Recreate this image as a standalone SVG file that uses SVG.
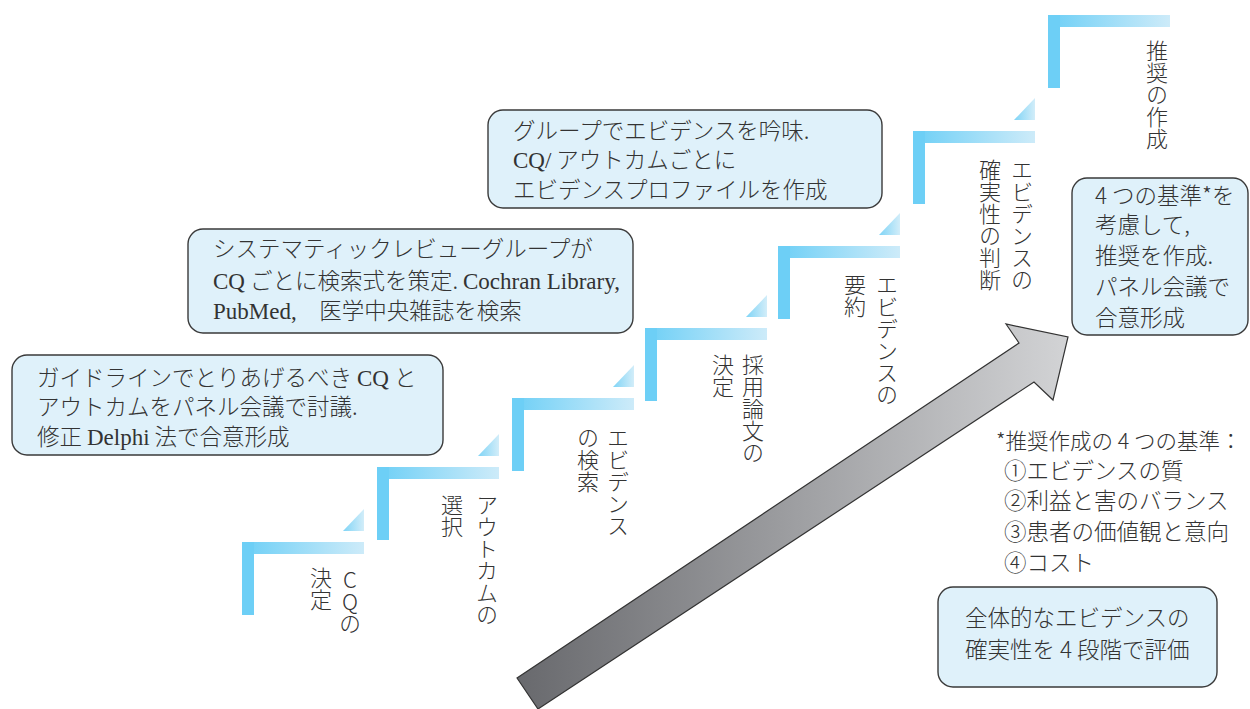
<svg xmlns="http://www.w3.org/2000/svg" width="1250" height="709" viewBox="0 0 1250 709">
<defs>
<linearGradient id="gBar" x1="0" y1="0" x2="1" y2="0">
<stop offset="0" stop-color="#6dcff6"/>
<stop offset="1" stop-color="#cdebf9"/>
</linearGradient>
<linearGradient id="gTri" x1="0" y1="0" x2="1" y2="0">
<stop offset="0" stop-color="#7fd4f6"/>
<stop offset="1" stop-color="#d2edf9"/>
</linearGradient>
<linearGradient id="gArrow" gradientUnits="userSpaceOnUse" x1="517" y1="0" x2="1066" y2="0">
<stop offset="0" stop-color="#68696d"/>
<stop offset="1" stop-color="#d2d3d5"/>
</linearGradient>
</defs>
<style>
.bar{fill:url(#gBar)}
.vbar{fill:#6dcff6}
.tri{fill:url(#gTri)}
.box{fill:#dff1fa;stroke:#3a3a3a;stroke-width:1.4}
.t{font-family:"Noto Sans CJK JP","Noto Sans",sans-serif;font-size:22.5px;fill:#333;font-weight:300}
.n{font-size:22.5px}
.n1{font-size:21.5px}
.v{font-family:"Noto Sans CJK JP","Noto Sans",sans-serif;font-size:22px;fill:#333;font-weight:300;writing-mode:vertical-rl;text-orientation:upright}
.s{font-family:"Liberation Serif",serif;font-size:23px}
</style>

<g id="step1">
<rect class="bar" x="242" y="542" width="122" height="12"/>
<rect class="vbar" x="242" y="542" width="12" height="73"/>
<polygon class="tri" points="343,531 364,531 364,509"/>
<text class="v" x="350" y="569">CQの</text>
<text class="v" x="321" y="567">決定</text>
</g>
<g id="step2">
<rect class="bar" x="377" y="467" width="122" height="12"/>
<rect class="vbar" x="377" y="467" width="12" height="73"/>
<polygon class="tri" points="478,456 499,456 499,434"/>
<text class="v" x="487" y="494">アウトカムの</text>
<text class="v" x="452" y="494">選択</text>
</g>
<g id="step3">
<rect class="bar" x="512" y="398" width="122" height="12"/>
<rect class="vbar" x="512" y="398" width="12" height="73"/>
<polygon class="tri" points="613,387 634,387 634,365"/>
<text class="v" x="618" y="427">エビデンス</text>
<text class="v" x="588" y="427">の検索</text>
</g>
<g id="step4">
<rect class="bar" x="645" y="328" width="122" height="12"/>
<rect class="vbar" x="645" y="328" width="12" height="73"/>
<polygon class="tri" points="746,317 767,317 767,295"/>
<text class="v" x="753" y="354">採用論文の</text>
<text class="v" x="723" y="354">決定</text>
</g>
<g id="step5">
<rect class="bar" x="778" y="246" width="122" height="12"/>
<rect class="vbar" x="778" y="246" width="12" height="73"/>
<polygon class="tri" points="879,235 900,235 900,213"/>
<text class="v" x="887" y="274">エビデンスの</text>
<text class="v" x="855" y="274">要約</text>
</g>
<g id="step6">
<rect class="bar" x="913" y="131" width="122" height="12"/>
<rect class="vbar" x="913" y="131" width="12" height="73"/>
<polygon class="tri" points="1014,120 1035,120 1035,98"/>
<text class="v" x="1022" y="159">エビデンスの</text>
<text class="v" x="990" y="159">確実性の判断</text>
</g>
<g id="step7">
<rect class="bar" x="1048" y="15" width="122" height="12"/>
<rect class="vbar" x="1048" y="15" width="12" height="73"/>
<text class="v" x="1157" y="40">推奨の作成</text>
</g>

<g id="connectors">
<path d="M517,678 L1019,343 L1006,324 L1068,337 L1053,400 L1034,382 L538,709 Z" fill="url(#gArrow)" stroke="#333" stroke-width="1.2" stroke-linejoin="miter"/>
</g>

<g id="boxA">
<rect class="box" x="12" y="355" width="431" height="100" rx="15"/>
<text class="t" x="37" y="386">ガイドラインでとりあげるべき <tspan class="s">CQ</tspan> と</text>
<text class="t" x="37" y="415">アウトカムをパネル会議で討議.</text>
<text class="t" x="37" y="445">修正 <tspan class="s">Delphi</tspan> 法で合意形成</text>
</g>
<g id="boxB">
<rect class="box" x="188" y="229" width="445" height="104" rx="15"/>
<text class="t" x="213" y="257">システマティックレビューグループが</text>
<text class="t" x="213" y="289"><tspan class="s">CQ</tspan> ごとに検索式を策定.  <tspan class="s">Cochran Library,</tspan></text>
<text class="t" x="213" y="319"><tspan class="s">PubMed,</tspan>　医学中央雑誌を検索</text>
</g>
<g id="boxC">
<rect class="box" x="488" y="110" width="394" height="98" rx="15"/>
<text class="t" x="513" y="139">グループでエビデンスを吟味.</text>
<text class="t" x="513" y="168"><tspan class="s">CQ/</tspan> アウトカムごとに</text>
<text class="t" x="513" y="198">エビデンスプロファイルを作成</text>
</g>
<g id="boxD">
<rect class="box" x="1072" y="178" width="176" height="157" rx="15"/>
<text class="t" x="1095" y="204">4 つの基準*を</text>
<text class="t" x="1095" y="233">考慮して,</text>
<text class="t" x="1095" y="264">推奨を作成.</text>
<text class="t" x="1095" y="295">パネル会議で</text>
<text class="t" x="1095" y="326">合意形成</text>
</g>
<g id="note">
<text class="t n1" x="996" y="449">*推奨作成の 4 つの基準：</text>
<text class="t n" x="1004" y="479">①エビデンスの質</text>
<text class="t n" x="1004" y="509">②利益と害のバランス</text>
<text class="t n" x="1004" y="540">③患者の価値観と意向</text>
<text class="t n" x="1004" y="571">④コスト</text>
</g>
<g id="boxE">
<rect class="box" x="938" y="587" width="279" height="100" rx="15"/>
<text class="t" x="965" y="626">全体的なエビデンスの</text>
<text class="t" x="965" y="658">確実性を 4 段階で評価</text>
</g>
</svg>
